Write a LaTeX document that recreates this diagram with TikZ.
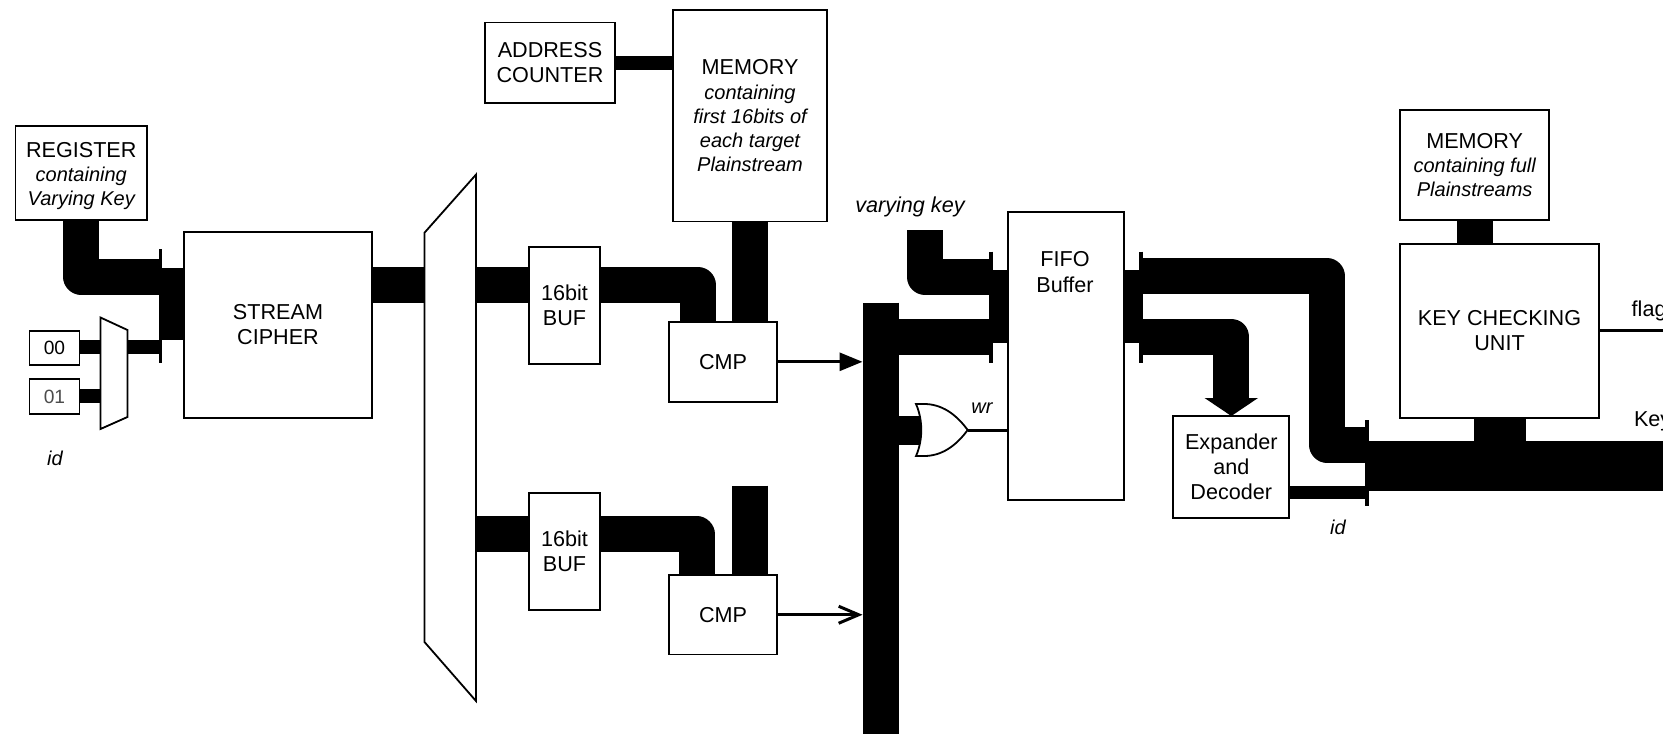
\documentclass[tikz,border=0pt]{standalone}
\usepackage{fontspec}
\setmainfont{Liberation Sans}
\usetikzlibrary{arrows.meta}
\newcommand{\bx}[6]{%
  \pgfmathsetmacro{\bxcx}{(#2+#4)/2}%
  \pgfmathsetmacro{\bxcy}{(#3+#5)/2}%
  \pgfmathsetmacro{\bxw}{(#4-#2)*0.5}%
  \pgfmathsetmacro{\bxh}{(#5-#3)*0.5}%
  \node[boxn,minimum width=\bxw pt,minimum height=\bxh pt] (#1) at (\bxcx,\bxcy) {#6};}
\newcommand{\itl}[1]{{\fontsize{10}{12}\selectfont\itshape #1}}
\newcommand{\smn}[1]{{\fontsize{9.6}{12}\selectfont #1}}
\tikzset{
  x=0.5pt,y=-0.5pt,
  boxn/.style={draw=black,fill=white,line width=0.9pt,inner sep=0pt,outer sep=0pt,align=center,
    font=\fontsize{10.8}{12.5}\selectfont},
  lbl/.style={inner sep=0pt,outer sep=0pt,align=center,font=\fontsize{10.8}{12.6}\selectfont},
  ilbl/.style={inner sep=0pt,outer sep=0pt,font=\fontsize{10}{12}\selectfont\itshape},
  busw/.style={draw=black,line width=18pt,line join=round,line cap=butt},
  busn/.style={draw=black,line width=7pt,line cap=butt},
  thinw/.style={draw=black,line width=1.5pt},
  tick/.style={draw=black,line width=1.8pt},
  shp/.style={draw=black,fill=white,line width=0.9pt,line join=miter},
}
\begin{document}
\begin{tikzpicture}
\useasboundingbox (0,0) rectangle (1663,734);
\clip (0,0) rectangle (1663,734);

% boxes
\bx{reg}{15.5}{125.7}{147}{220}{\rule{0pt}{11pt}REGISTER\\[-0.5pt]\itl{containing}\\[-0.5pt]\itl{Varying Key}}
\bx{zero}{29.5}{330.7}{79.5}{365}{\smn{00}}
\bx{one}{29.5}{379}{79.5}{414}{\smn{\textcolor{black!70}{01}}}
\bx{sc}{184}{232}{372}{418}{STREAM\\CIPHER}
\bx{addr}{485}{22.5}{615}{103}{ADDRESS\\COUNTER}
\bx{mem}{673.3}{10.3}{826.7}{221.4}{MEMORY\\\itl{containing}\\[-0.5pt]\itl{first 16bits of}\\[-0.5pt]\itl{each target}\\[-0.5pt]\itl{Plainstream}}
\bx{bufa}{529}{247}{600}{364}{16bit\\BUF}
\bx{bufb}{529}{493}{600}{609.6}{16bit\\BUF}
\bx{cmpa}{669.3}{321.6}{776.7}{402}{CMP}
\bx{cmpb}{669.3}{575}{776.7}{654.5}{CMP}
\bx{fifo}{1008}{211.7}{1123.7}{500.3}{}
\bx{exp}{1173.3}{416}{1289.3}{518.3}{Expander\\and\\Decoder}
\bx{memb}{1400.3}{110}{1549}{219.7}{MEMORY\\[-0.5pt]\itl{containing full}\\[-0.5pt]\itl{Plainstreams}}
\bx{kcu}{1400.3}{243.7}{1598.7}{418}{KEY CHECKING\\UNIT}

% multiplexer outlines
\coordinate (ma) at (100.5,317.5);
\coordinate (mb) at (127.5,330);
\coordinate (mc) at (127.5,417);
\coordinate (md) at (100.5,429);
\coordinate (ba) at (424.5,232.7);
\coordinate (bb) at (476,174.6);
\coordinate (bc) at (476,701);
\coordinate (bd) at (424.5,642);
\draw[shp] (ma)--(mb)--(mc)--(md)--cycle;
\draw[shp] (ba)--(bb)--(bc)--(bd)--cycle;

% junction points
\coordinate (tl) at (159.5,276.7);
\coordinate (tlb) at (159.5,347);
\coordinate (muxz) at (100.5,347);
\coordinate (muxo) at (100.5,396);
\coordinate (muxout) at (127.5,347);
\coordinate (bigin) at (424.5,285);
\coordinate (bigouta) at (476,285);
\coordinate (bigoutb) at (476,534.4);
\coordinate (cmpain) at (698,321.6);
\coordinate (cmpbin) at (696.5,575);
\coordinate (stub) at (749.7,485.5);
\coordinate (vbt) at (881,302.7);
\coordinate (vbb) at (881,734);
\coordinate (vbl) at (862.5,0);
\coordinate (fl) at (991,336.5);
\coordinate (vk) at (925.3,230);
\coordinate (vke) at (991,277.3);
\coordinate (orout) at (967.7,430);
\coordinate (orin) at (921,430);
\coordinate (fr) at (1140,276.3);
\coordinate (frb) at (1140,336.5);
\coordinate (bend) at (1327,444.5);
\coordinate (tr) at (1366,444.5);
\coordinate (trb) at (1366,492.7);
\coordinate (busl) at (1366,465.8);
\coordinate (busr) at (1663,465.8);
\coordinate (flagr) at (1663,330.3);
\coordinate (mkx) at (1474.7,219.7);
\coordinate (addrm) at (615,63);

% connectors
\draw[busw] (reg.south) |- (tl);
\draw[busn] (zero.east |- muxz) -- (muxz);
\draw[busn] (one.east |- muxo) -- (muxo);
\draw[busn] (muxout) -- (tlb);
\draw[busw] (sc.east |- bigin) -- (bigin);
\draw[busn] (addr.east |- addrm) -- (mem.west |- addrm);
\draw[busw] (bigouta) -- (bufa.west |- bigouta);
\draw[busw] (bigoutb) -- (bufb.west |- bigoutb);
\draw[busw] (bufa.east |- bigouta) -| (cmpain);
\draw[busw] (bufb.east |- bigoutb) -| (cmpbin);
\draw[busw] (mem.south -| stub) -- (cmpa.north -| stub);
\draw[busw] (stub) -- (cmpb.north -| stub);
\draw[busw] (vbt) -- (vbb);
\draw[thinw,-{Triangle[length=11.5pt,width=9pt]}] (cmpa.east) -- (vbl |- cmpa.east);
\draw[thinw,-{Straight Barb[length=10pt,width=8.5pt]}] (cmpb.east) -- (vbl |- cmpb.east);
\draw[busw] (vbt |- fl) -- (fl);
\draw[busw] (vk) |- (vke);
\draw[line width=14.5pt] (vbt |- orin) -- (orin);
\draw[thinw] (orout) -- (fifo.west |- orout);
\draw[busw] (fr) -| (bend) -- (tr);
\draw[busw,-{Triangle[length=9pt,width=26.3pt]}] (frb) -| (exp.north);
\draw[line width=6.7pt] (exp.east |- trb) -- (trb);
\draw[line width=25.15pt] (busl) -- (busr);
\draw[busw] (mkx) -- (mkx |- kcu.north);
\fill (1474.3,418) rectangle (1525.7,441);
\draw[thinw] (kcu.east |- flagr) -- (flagr);

% bus junction stubs and ticks
\fill (159,268) rectangle (184,340);
\fill (990,270) rectangle (1008,342.7);
\fill (1123.7,270) rectangle (1140,342.7);
\draw[tick] (160.5,249) -- (160.5,363);
\draw[tick] (991,251.7) -- (991,362.7);
\draw[tick] (1140.7,251.7) -- (1140.7,362.7);
\draw[tick] (1366.7,420) -- (1366.7,506);

% OR gate
\draw[shp] (916,404) -- (926,404) .. controls (945,405) and (958,417) .. (967.7,430)
  .. controls (958,443) and (945,455) .. (926,456) -- (916,456)
  .. controls (923,440) and (923,420) .. (916,404) -- cycle;

% labels
\node[lbl] (fifot) at (1065,272) {FIFO\\Buffer};
\node[ilbl] (idl) at (55,458) {id};
\node[ilbl] (idr) at (1338,527) {id};
\node[ilbl,font=\fontsize{10.8}{12}\selectfont\itshape] (vkl) at (910,207) {varying key};
\node[ilbl] (wrl) at (982,408) {wr};
\node[lbl,anchor=base west] (flagl) at (1631.7,316) {flag};
\node[lbl,anchor=base west] (keyl) at (1634,426) {Key};
\end{tikzpicture}
\end{document}
